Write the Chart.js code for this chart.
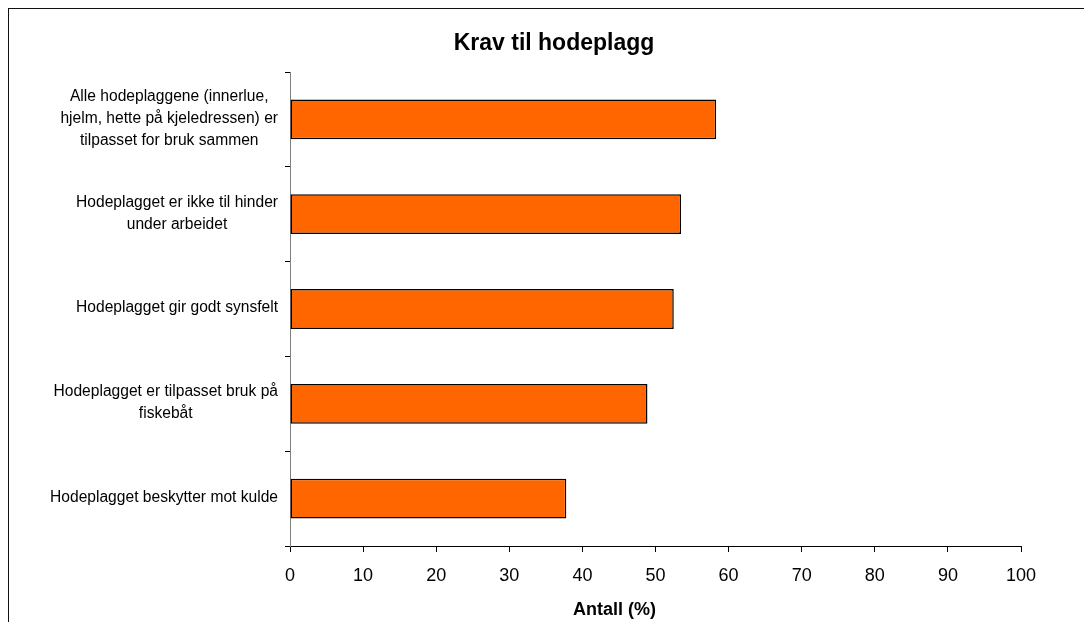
<!DOCTYPE html>
<html>
<head>
<meta charset="utf-8">
<script src="https://cdn.jsdelivr.net/npm/chart.js@4/dist/chart.umd.min.js"></script>
<style>
  html, body { margin: 0; padding: 0; background: #fff; overflow: hidden; }
  #wrap { position: absolute; left: 0; top: 0; width: 1084px; height: 622px; }
  #frame { position: absolute; left: 8px; top: 8px; width: 1200px; height: 1000px;
           border-left: 1.5px solid #111; border-top: 1.5px solid #111; pointer-events: none; }
</style>
</head>
<body>
<div id="wrap"><canvas id="c" width="1084" height="622"></canvas></div>
<div id="frame"></div>
<script>
const chartTitle = "Krav til hodeplagg";
const axisTitle = "Antall (%)";
const categories = [
  ["Alle hodeplaggene (innerlue,", "hjelm, hette på kjeledressen) er", "tilpasset for bruk sammen"],
  ["Hodeplagget er ikke til hinder", "under arbeidet"],
  ["Hodeplagget gir godt synsfelt"],
  ["Hodeplagget er tilpasset bruk på", "fiskebåt"],
  ["Hodeplagget beskytter mot kulde"]
];
const values = [58.3, 53.5, 52.5, 48.9, 37.8];
const xTicks = [0, 10, 20, 30, 40, 50, 60, 70, 80, 90, 100];

const FONT = "'Liberation Sans', Arial, sans-serif";

const labelPlugin = {
  id: 'customLabels',
  afterDraw(chart) {
    const s = chart.scales.y;
    const ctx = chart.ctx;
    ctx.save();
    // category labels: each block right-aligned, lines centred within the block
    ctx.font = "15.6px " + FONT;
    ctx.fillStyle = "#000";
    ctx.textAlign = "center";
    ctx.textBaseline = "middle";
    const lh = 22;
    const right = s.right - 12;
    categories.forEach((lines, i) => {
      const maxW = Math.max(...lines.map(l => ctx.measureText(l).width));
      const cx = right - maxW / 2;
      const cy = s.getPixelForValue(i) - 1;
      const y0 = cy - (lines.length - 1) * lh / 2;
      lines.forEach((l, k) => ctx.fillText(l, cx, y0 + k * lh));
    });
    // x axis title (offset left of the axis centre, as in the original)
    const xs = chart.scales.x;
    ctx.font = "bold 18px " + FONT;
    ctx.textBaseline = "alphabetic";
    ctx.fillText(axisTitle, 614.5, xs.bottom - 7);
    ctx.restore();
  }
};

new Chart(document.getElementById('c'), {
  type: 'bar',
  data: {
    labels: categories.map(c => c.join(' ')),
    datasets: [{
      data: values,
      backgroundColor: '#FF6600',
      borderColor: '#000',
      borderWidth: 1.5,
      borderSkipped: false,
      barPercentage: 0.42,
      categoryPercentage: 1
    }]
  },
  options: {
    indexAxis: 'y',
    responsive: false,
    animation: false,
    layout: { padding: { left: 87, right: 63, top: 0, bottom: 0 } },
    plugins: {
      legend: { display: false },
      tooltip: { enabled: false },
      title: {
        display: true,
        text: chartTitle,
        color: '#000',
        font: { family: FONT, size: 23, weight: 'bold', lineHeight: 1.2 },
        padding: { top: 29.7, bottom: 14.7 }
      }
    },
    scales: {
      x: {
        type: 'linear',
        min: 0, max: 100,
        afterBuildTicks: (scale) => { scale.ticks = xTicks.map(v => ({ value: v })); },
        afterFit: (scale) => { scale.height = 76; },
        ticks: { color: '#000', font: { family: FONT, size: 18, lineHeight: 1.2 }, padding: 13, maxRotation: 0 },
        grid: { drawOnChartArea: false, drawTicks: true, tickLength: 6, color: '#000' },
        border: { color: '#000', width: 1 },
        title: { display: false }
      },
      y: {
        type: 'category',
        ticks: { display: false },
        afterFit: (scale) => { scale.width = 203; },
        grid: { drawOnChartArea: false, drawTicks: true, tickLength: 5, color: '#000', offset: true },
        border: { color: '#808080', width: 1 }
      }
    }
  },
  plugins: [labelPlugin]
});
</script>
</body>
</html>
